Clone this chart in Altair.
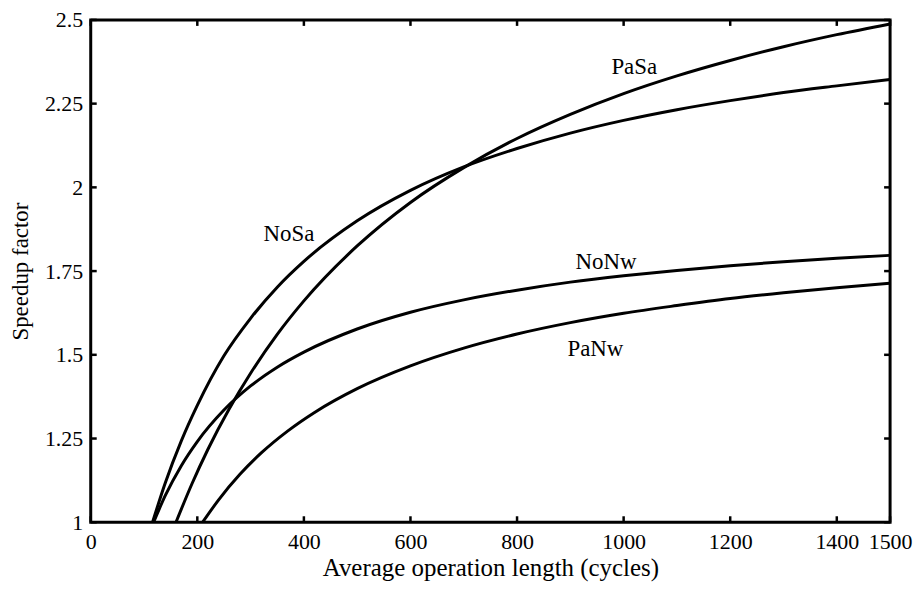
import altair as alt
import pandas as pd

# ---- data ----
nosa_x = [116, 140, 170, 200, 250, 300, 350, 400, 500, 600, 700, 800, 900, 1000, 1100, 1200, 1300, 1400, 1500]
nosa_y = [1.0, 1.118, 1.243, 1.349, 1.497, 1.609, 1.702, 1.779, 1.900, 1.991, 2.061, 2.116, 2.162, 2.200, 2.232, 2.259, 2.283, 2.303, 2.322]

pasa_x = [160, 190, 220, 260, 300, 350, 400, 500, 600, 700, 800, 900, 1000, 1100, 1200, 1300, 1400, 1500]
pasa_y = [1.0, 1.115, 1.218, 1.339, 1.445, 1.561, 1.661, 1.825, 1.955, 2.059, 2.146, 2.218, 2.280, 2.333, 2.379, 2.420, 2.456, 2.488]

nonw_x = [118, 140, 170, 200, 250, 300, 350, 400, 500, 600, 700, 800, 900, 1000, 1100, 1200, 1300, 1400, 1500]
nonw_y = [1.0, 1.080, 1.169, 1.241, 1.335, 1.407, 1.463, 1.508, 1.577, 1.627, 1.664, 1.693, 1.717, 1.736, 1.752, 1.766, 1.778, 1.788, 1.797]

panw_x = [210, 240, 280, 320, 370, 420, 500, 600, 700, 800, 900, 1000, 1100, 1200, 1300, 1400, 1500]
panw_y = [1.0, 1.067, 1.143, 1.207, 1.273, 1.328, 1.399, 1.467, 1.520, 1.562, 1.596, 1.624, 1.647, 1.668, 1.685, 1.700, 1.714]

label_text = ["NoSa", "PaSa", "NoNw", "PaNw"]
label_x = [372, 1020, 967, 947]
label_y = [1.862, 2.36, 1.778, 1.517]

x_ticks = [0, 200, 400, 600, 800, 1000, 1200, 1400, 1500]
y_ticks = [1, 1.25, 1.5, 1.75, 2, 2.25, 2.5]

rows = []
for name, xs_, ys_ in [("NoSa", nosa_x, nosa_y), ("PaSa", pasa_x, pasa_y),
                       ("NoNw", nonw_x, nonw_y), ("PaNw", panw_x, panw_y)]:
    for a, b in zip(xs_, ys_):
        rows.append({"series": name, "x": a, "y": b})
df = pd.DataFrame(rows)
lab = pd.DataFrame({"text": label_text, "x": label_x, "y": label_y})
xt = pd.DataFrame({"x": x_ticks})
yt = pd.DataFrame({"y": y_ticks})

W, H = 802, 504
FONT = "Liberation Serif"
TICK = 6
xs = alt.Scale(domain=[0, 1500], nice=False, zero=False)
ys = alt.Scale(domain=[1, 2.5], nice=False, zero=False)

xa = alt.Axis(values=x_ticks, labelExpr="'' + datum.value",
              title="Average operation length (cycles)", ticks=False, domain=False,
              grid=False, labelFont=FONT, labelFontSize=22, labelColor="black", labelPadding=9,
              titleFont=FONT, titleFontSize=25, titleFontWeight="normal", titleColor="black",
              titlePadding=3, labelFlush=False)
ya = alt.Axis(values=y_ticks, labelExpr="'' + datum.value", title="Speedup factor", ticks=False,
              domain=False, grid=False, labelFont=FONT, labelFontSize=22, labelColor="black",
              labelPadding=8, titleFont=FONT, titleFontSize=23, titleFontWeight="normal",
              titleColor="black", titlePadding=12, labelFlush=False)

lines = alt.Chart(df).mark_line(color="black", strokeWidth=3, interpolate="monotone").encode(
    x=alt.X("x:Q", scale=xs, axis=xa),
    y=alt.Y("y:Q", scale=ys, axis=ya),
    detail="series:N",
)

tick_style = dict(color="black", strokeWidth=2.5)
xt_bottom = alt.Chart(xt).mark_rule(**tick_style).encode(
    x=alt.X("x:Q", scale=xs, axis=xa), y=alt.value(H), y2=alt.value(H - TICK))
xt_top = alt.Chart(xt).mark_rule(**tick_style).encode(
    x=alt.X("x:Q", scale=xs, axis=xa), y=alt.value(0), y2=alt.value(TICK))
yt_left = alt.Chart(yt).mark_rule(**tick_style).encode(
    y=alt.Y("y:Q", scale=ys, axis=ya), x=alt.value(0), x2=alt.value(TICK))
yt_right = alt.Chart(yt).mark_rule(**tick_style).encode(
    y=alt.Y("y:Q", scale=ys, axis=ya), x=alt.value(W), x2=alt.value(W - TICK))

texts = alt.Chart(lab).mark_text(font=FONT, fontSize=23, color="black",
                                 align="center", baseline="middle").encode(
    x=alt.X("x:Q", scale=xs, axis=xa),
    y=alt.Y("y:Q", scale=ys, axis=ya),
    text="text:N",
)

chart = alt.layer(lines, xt_bottom, xt_top, yt_left, yt_right, texts).properties(
    width=W, height=H,
    autosize=alt.AutoSizeParams(type="none"),
    padding={"left": 83, "top": 11, "right": 25, "bottom": 60},
).configure(background="white").configure_view(stroke="black", strokeWidth=3)

chart.save("out.html", embed_options={"renderer": "svg", "actions": False})
